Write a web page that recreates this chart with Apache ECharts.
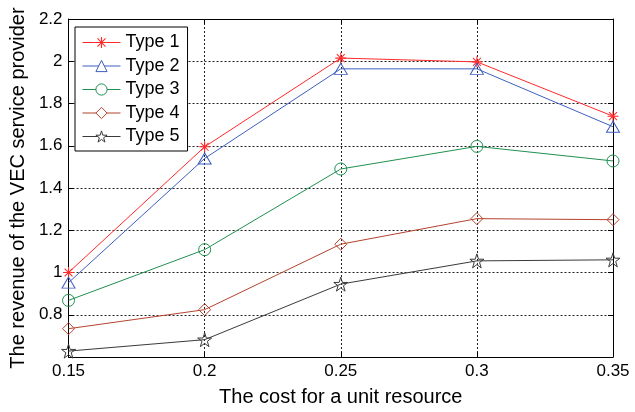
<!DOCTYPE html>
<html>
<head>
<meta charset="utf-8">
<script src="https://cdn.jsdelivr.net/npm/echarts@6/dist/echarts.min.js"></script>
<style>html,body{margin:0;padding:0;background:#fff}#c{width:635px;height:412px}</style>
</head>
<body>
<div id="c"></div>
<script>
var categories = ['0.15', '0.2', '0.25', '0.3', '0.35'];
var seriesNames = ['Type 1', 'Type 2', 'Type 3', 'Type 4', 'Type 5'];
var type1 = [1.00, 1.595, 2.015, 1.997, 1.74];
var type2 = [0.952, 1.54, 1.964, 1.964, 1.69];
var type3 = [0.868, 1.108, 1.49, 1.597, 1.528];
var type4 = [0.734, 0.824, 1.134, 1.255, 1.25];
var type5 = [0.628, 0.682, 0.945, 1.055, 1.06];
var yTicks = { min: 0.6, max: 2.2, interval: 0.2 };

var colors = ['#ff2a2a', '#3f5fbf', '#1f9050', '#b5432e', '#3a3a3a'];
var asterisk = 'path://M0,5.4H12V6.6H0Z M5.4,0H6.6V12H5.4Z M1.3,2.1L2.1,1.3L10.7,9.9L9.9,10.7Z M9.9,1.3L10.7,2.1L2.1,10.7L1.3,9.9Z';
var star = 'path://M10,0L12.245,6.91L19.51,6.91L13.63,11.18L15.88,18.09L10,13.82L4.12,18.09L6.37,11.18L0.49,6.91L7.755,6.91Z';
var symbols = [asterisk, 'triangle', 'circle', 'diamond', star];
var sizes = [11, [13, 11], 12, 12, 14];
var values = [type1, type2, type3, type4, type5];

var font = 'Liberation Sans, Arial, sans-serif';
var series = values.map(function (v, i) {
  var hollow = i > 0;
  return {
    name: seriesNames[i],
    type: 'line',
    data: v,
    symbol: symbols[i],
    symbolSize: sizes[i],
    showAllSymbol: true,
    lineStyle: { color: colors[i], width: 1 },
    itemStyle: hollow ? { color: 'transparent', borderColor: colors[i], borderWidth: 1 } : { color: colors[i], borderWidth: 0 },
    emphasis: { disabled: true },
    animation: false,
    z: 3
  };
});

var legendData = seriesNames.map(function (n, i) {
  var hollow = i > 0;
  return {
    name: n,
    itemStyle: hollow ? { color: '#fff', borderColor: colors[i], borderWidth: 1 } : { color: colors[i], borderWidth: 0 },
    lineStyle: { color: colors[i], width: 1 }
  };
});

var chart = echarts.init(document.getElementById('c'));
chart.setOption({
  animation: false,
  backgroundColor: '#fff',
  grid: { left: 68, right: 22, top: 19, bottom: 52 },
  legend: {
    orient: 'vertical',
    left: 75, top: 27,
    data: legendData,
    backgroundColor: '#fff',
    borderColor: '#000', borderWidth: 1,
    padding: [6, 8, 5, 7],
    itemWidth: 38, itemHeight: 14, itemGap: 4.5,
    textStyle: { fontFamily: font, fontSize: 18, color: '#000', lineHeight: 19 },
    selectedMode: false
  },
  xAxis: [{
    type: 'category', data: categories, boundaryGap: false,
    name: 'The cost for a unit resource', nameLocation: 'middle', nameGap: 30,
    nameTextStyle: { fontFamily: font, fontSize: 20, color: '#000' },
    axisLine: { lineStyle: { color: '#000', width: 1 } },
    axisTick: { inside: true, length: 5, lineStyle: { color: '#000' } },
    axisLabel: { fontFamily: font, fontSize: 17, color: '#000', margin: 6 },
    splitLine: { show: true, lineStyle: { color: '#222', type: [2, 2], width: 1 } }
  }, {
    type: 'category', data: categories, boundaryGap: false, position: 'top',
    axisLine: { lineStyle: { color: '#000', width: 1 } },
    axisTick: { inside: true, length: 5, lineStyle: { color: '#000' } },
    axisLabel: { show: false }, splitLine: { show: false }
  }],
  yAxis: [{
    type: 'value', min: yTicks.min, max: yTicks.max, interval: yTicks.interval,
    name: 'The revenue of the VEC service provider', nameLocation: 'middle', nameGap: 34,
    nameTextStyle: { fontFamily: font, fontSize: 20, color: '#000' },
    axisLine: { show: true, lineStyle: { color: '#000', width: 1 } },
    axisTick: { show: true, inside: true, length: 5, lineStyle: { color: '#000' } },
    axisLabel: { fontFamily: font, fontSize: 17, color: '#000', margin: 6, showMinLabel: false },
    splitLine: { show: true, lineStyle: { color: '#222', type: [2, 2], width: 1 } }
  }, {
    type: 'value', min: yTicks.min, max: yTicks.max, interval: yTicks.interval, position: 'right',
    axisLine: { show: true, lineStyle: { color: '#000', width: 1 } },
    axisTick: { show: true, inside: true, length: 5, lineStyle: { color: '#000' } },
    axisLabel: { show: false }, splitLine: { show: false }
  }],
  series: series
});
</script>
</body>
</html>
